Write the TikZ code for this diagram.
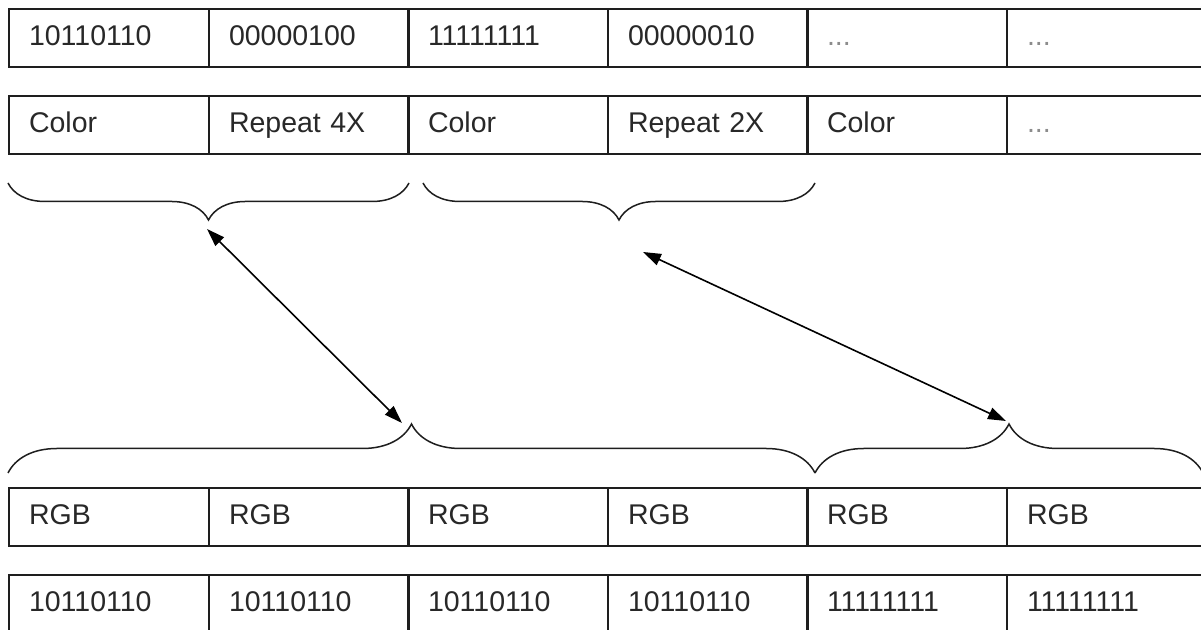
\documentclass[tikz,border=0pt]{standalone}
\usepackage{fontspec}
\setmainfont{Liberation Sans}
\usetikzlibrary{
    arrows.meta,
    decorations.pathreplacing
}
\definecolor{cellline}{RGB}{30,30,30}
\definecolor{celltext}{RGB}{40,40,40}
\definecolor{dotgray}{RGB}{140,140,140}
\newcommand{\gapdots}{\textcolor{dotgray}{...}}
\tikzset{
    % Cells
    cell/.style={
        rectangle,
        draw=cellline,
        line width=0.9pt,
        anchor=north west,
        minimum width=99.8pt,
        minimum height=29pt,
        text width=79.8pt,
        inner xsep=10pt,
        inner ysep=0pt,
        outer sep=0pt,
        text height=10.4pt,
        text depth=2.7pt,
        align=left,
        text=celltext,
        font=\fontsize{14.25}{17}\selectfont
    },
    % Braces
    bracedown/.style={
        decorate,
        decoration={brace, amplitude=18.5pt},
        draw=cellline,
        line width=0.75pt
    },
    braceup/.style={
        decorate,
        decoration={brace, amplitude=24.5pt},
        draw=cellline,
        line width=0.75pt
    },
    % Arrows
    link/.style={
        {Triangle[length=9pt,width=6pt]}-{Triangle[length=9pt,width=6pt]},
        line width=0.8pt,
        draw=black
    }
}

\begin{document}
\begin{tikzpicture}[x=0.5pt, y=0.5pt]

    \clip (0,0) rectangle (1201,630);
    \fill[white] (0,0) rectangle (1201,630);

    % Encoded bytes
    \foreach \t [count=\i] in {10110110,00000100,11111111,00000010,\gapdots,\gapdots} {
        \node[cell] (bits-\i) at ({9+round(199.6*(\i-1))},621) {\t};
    }

    % Meaning of each byte
    \foreach \t [count=\i] in {Color,Repeat 4X,Color,Repeat 2X,Color,\gapdots} {
        \node[cell] (code-\i) at ({9+round(199.6*(\i-1))},534) {\t};
    }

    % Decoded pixels
    \foreach \i in {1,...,6} {
        \node[cell] (rgb-\i) at ({9+round(199.6*(\i-1))},142) {RGB};
    }

    % Decoded bytes
    \foreach \t [count=\i] in {10110110,10110110,10110110,10110110,11111111,11111111} {
        \node[cell] (out-\i) at ({9+round(199.6*(\i-1))},55) {\t};
    }

    % Braces grouping color + repeat
    \draw[bracedown] (409,447) -- (8,447);
    \draw[bracedown] (815,447) -- (423,447);

    % Braces grouping the pixels
    \draw[braceup] (8,157) -- (815,157);
    \draw[braceup] (815,157) -- (1203,157);

    % Arrow ends
    \coordinate (runA) at (207,401);
    \coordinate (pixA) at (402,207);
    \coordinate (runB) at (643,378);
    \coordinate (pixB) at (1006,209);

    \draw[link] (runA) -- (pixA);
    \draw[link] (runB) -- (pixB);

\end{tikzpicture}
\end{document}
